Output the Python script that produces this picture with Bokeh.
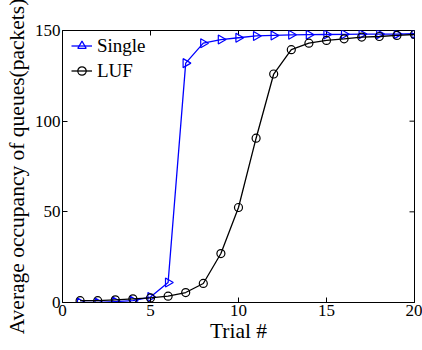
import numpy as np
from bokeh.plotting import figure
from bokeh.models import Range1d, FixedTicker, Legend, LegendItem
from bokeh.embed import file_html
from bokeh.resources import INLINE

trials = list(range(1, 21))
single = [0, 0, 0.5, 1, 3, 11, 132, 143, 145, 146, 147, 147.3, 147.6, 147.7, 147.8, 147.9, 148, 148, 148, 148.2]
luf = [1, 1, 1.5, 2, 2.5, 3.5, 5.5, 10.5, 27, 52.4, 90.6, 126, 139.4, 143, 144.5, 145.4, 146.4, 146.7, 147.3, 147.8]
x_ticks = [0, 5, 10, 15, 20]
y_ticks = [0, 50, 100, 150]

FONT = "Liberation Serif"
X0, X1, Y0, Y1 = 0, 20, 0, 150
FW, FH = 352, 272  # frame size in px (422-62-8, 350-30-48)
TICK = 5

p = figure(width=422, height=350, output_backend="svg", toolbar_location=None,
           x_range=Range1d(X0, X1), y_range=Range1d(Y0, Y1),
           min_border_top=30, min_border_right=8, min_border_left=62, min_border_bottom=48)
p.grid.visible = False
p.outline_line_color = "black"
p.outline_line_width = 1

for ax in [p.xaxis[0], p.yaxis[0]]:
    ax.major_tick_in = TICK
    ax.major_tick_out = 0
    ax.minor_tick_line_color = None
    ax.major_label_text_font = FONT
    ax.major_label_text_font_size = "17px"
    ax.major_label_text_color = "black"
    ax.axis_label_text_font = FONT
    ax.axis_label_text_font_style = "normal"
    ax.axis_label_text_color = "black"
    ax.axis_label_text_font_size = "21.5px"
    ax.axis_line_color = "black"
    ax.major_tick_line_color = "black"

p.xaxis[0].ticker = FixedTicker(ticks=x_ticks)
p.yaxis[0].ticker = FixedTicker(ticks=y_ticks)
p.xaxis[0].axis_label = "Trial #"
p.yaxis[0].axis_label = "Average occupancy of queues(packets)"
p.xaxis[0].major_label_standoff = 2
p.yaxis[0].major_label_standoff = 2
p.xaxis[0].axis_label_standoff = 0
p.yaxis[0].axis_label_standoff = 3

# ticks on top and right edges (box style), drawn from the tick lists
dy = TICK * (Y1 - Y0) / FH
dx = TICK * (X1 - X0) / FW
p.segment(x0=x_ticks, y0=[Y1] * len(x_ticks), x1=x_ticks, y1=[Y1 - dy] * len(x_ticks),
          line_color="black", line_width=1)
p.segment(x0=[X1] * len(y_ticks), y0=y_ticks, x1=[X1 - dx] * len(y_ticks), y1=y_ticks,
          line_color="black", line_width=1)

l1 = p.line(trials, single, line_color="#0000ff", line_width=1.3)
s1 = p.scatter(trials, single, marker="triangle", angle=-np.pi / 2, size=9,
               line_color="#0000ff", fill_color=None, line_width=1.2)
l2 = p.line(trials, luf, line_color="black", line_width=1.3)
s2 = p.scatter(trials, luf, marker="circle", size=8,
               line_color="black", fill_color=None, line_width=1.2)

legend = Legend(items=[LegendItem(label="Single", renderers=[l1, s1]),
                       LegendItem(label="LUF", renderers=[l2, s2])],
                location=(9, 219))
legend.label_text_font = FONT
legend.label_text_font_size = "19px"
legend.label_text_color = "black"
legend.border_line_alpha = 0
legend.background_fill_alpha = 0
legend.glyph_width = 21
legend.glyph_height = 25
legend.label_height = 25
legend.label_standoff = 5
legend.spacing = 0
legend.padding = 0
legend.margin = 0
p.add_layout(legend, "center")

open("out.html", "w").write(file_html(p, INLINE))
